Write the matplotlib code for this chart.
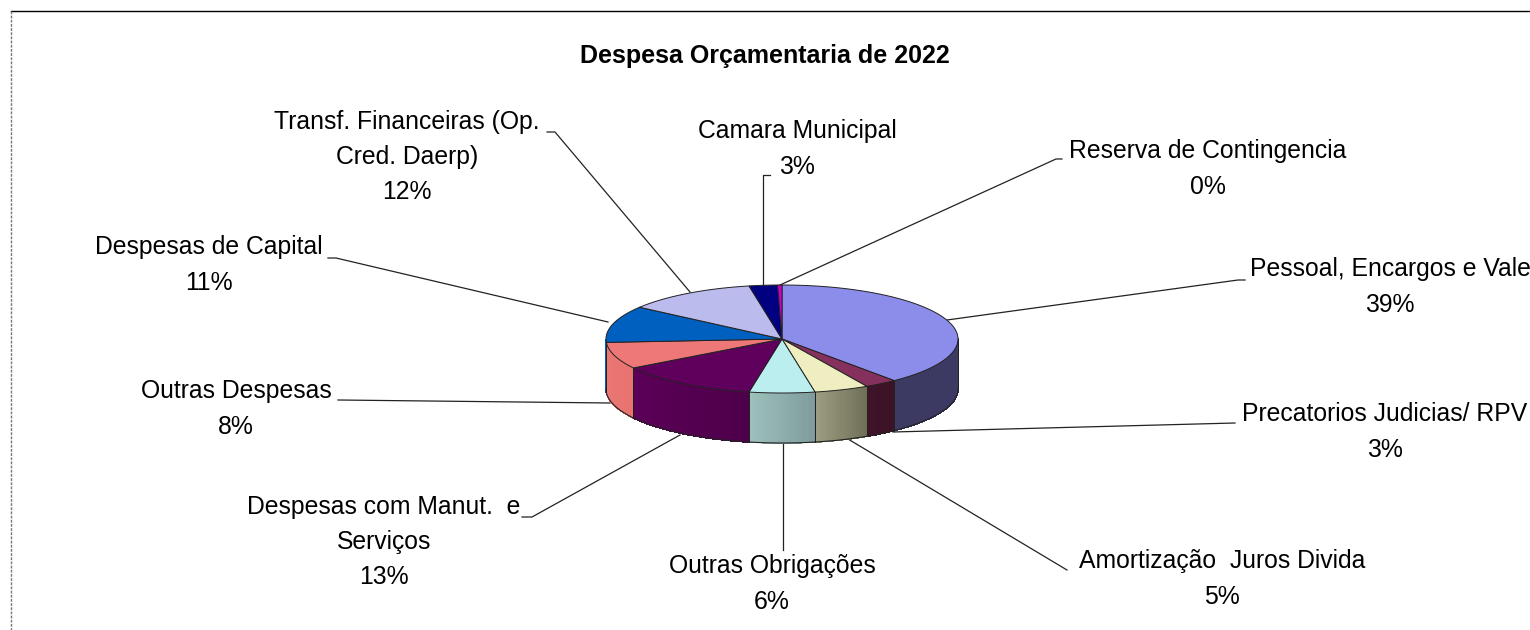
import numpy as np
import matplotlib
matplotlib.use('AGG')
import matplotlib.pyplot as plt
from matplotlib.colors import to_rgb

plt.rcParams['font.family'] = ['Liberation Sans', 'DejaVu Sans']

title = 'Despesa Orçamentaria de 2022'
categories = ['Pessoal, Encargos e Vale', 'Precatorios Judicias/ RPV', 'Amortização  Juros Divida',
              'Outras Obrigações', 'Despesas com Manut.  e\nServiços', 'Outras Despesas',
              'Despesas de Capital', 'Transf. Financeiras (Op.\nCred. Daerp)', 'Camara Municipal',
              'Reserva de Contingencia']
values = [39, 3, 5, 6, 13, 8, 11, 12, 2.6, 0.4]

top_colors = ['#8c8ceb', '#86305e', '#eeeec0', '#bbeeee', '#5e005c',
              '#ee7777', '#0060c0', '#bbbbee', '#000080', '#cc00cc']
side_left = ['#3c3a63', '#401428', '#9c9c80', '#9cc0bc', '#5c0058',
             '#ea7874', '#0060c0', '#bbbbee', '#000080', '#cc00cc']
side_right = ['#3c3a63', '#3c1226', '#6f6f58', '#7f9c9c', '#4e004a',
              '#e87270', '#0060c0', '#bbbbee', '#000080', '#cc00cc']

# pie position on the canvas, in pixels
cx, cy, rx, ry, depth = 782, 339, 176, 54, 50

# text centre x, y of each label
label_pos = [(1390, 287), (1385, 432), (1222, 579), (772, 584), (384, 542),
             (236, 409), (209, 265), (407, 157), (797, 149), (1208, 169)]

leaders = [
    [(947, 320), (1238, 280), (1245, 280)],
    [(893, 432), (1235, 423)],
    [(848, 439), (1067, 570)],
    [(783, 443), (783, 550)],
    [(680, 435), (532, 517), (522, 517)],
    [(610, 403), (338, 400)],
    [(608, 322), (336, 258), (328, 258)],
    [(690, 292), (555, 132), (547, 132)],
    [(763, 285), (763, 175), (770, 175)],
    [(780, 285), (1056, 159), (1062, 159)],
]


def rim(a):
    # a is clockwise from the top, in radians
    return cx + rx * np.sin(a), cy - ry * np.cos(a)


fig = plt.figure(figsize=(15.3, 6.3), dpi=100)
ax = fig.add_axes([0, 0, 1, 1])
ax.set_xlim(0, 1530)
ax.set_ylim(630, 0)
ax.axis('off')

# chart frame
ax.plot([11, 1530], [11, 11], color='black', lw=1.0)
ax.plot([11, 11], [11, 630], color='#777777', lw=1.0, ls=(0, (2, 1)))

for pts in leaders:
    xs, ys = zip(*pts)
    ax.plot(xs, ys, color='#222222', lw=0.9, zorder=1)

edges = np.cumsum([0] + values) / sum(values) * 2 * np.pi

# side wall, only the front half can be seen
for i in range(len(values)):
    a0 = max(edges[i], np.pi / 2)
    a1 = min(edges[i + 1], 3 * np.pi / 2)
    if a1 <= a0:
        continue
    steps = np.linspace(a0, a1, 25)
    for j in range(len(steps) - 1):
        # angles run clockwise, so a0 is the right hand end on the front
        t = j / 23
        col = t * np.array(to_rgb(side_left[i])) + (1 - t) * np.array(to_rgb(side_right[i]))
        seg = np.linspace(steps[j], steps[j + 1], 4)
        x, y = rim(seg)
        px = np.r_[x, x[::-1]]
        py = np.r_[y, y[::-1] + depth]
        ax.fill(px, py, facecolor=col, edgecolor=col, lw=0.5, antialiased=False, zorder=2)
    for a in (a0, a1):
        x, y = rim(a)
        ax.plot([x, x], [y, y + depth], color='#222222', lw=0.7, zorder=3)
    x, y = rim(np.linspace(a0, a1, 60))
    ax.plot(x, y + depth, color='#222222', lw=0.8, zorder=3)

# top face
for i in range(len(values)):
    x, y = rim(np.linspace(edges[i], edges[i + 1], 100))
    ax.fill(np.r_[cx, x], np.r_[cy, y], facecolor=top_colors[i], edgecolor='#222222', lw=0.7, zorder=4)

for name, v, pos in zip(categories, values, label_pos):
    ax.text(pos[0], pos[1], '%s\n%d%%' % (name, round(v)), ha='center', va='center',
            fontsize=17.8, color='black', linespacing=1.59, clip_on=True, zorder=5)

ax.text(765, 56, title, ha='center', va='center', fontsize=18, fontweight='bold', color='black')

fig.savefig('out.png', dpi=100)
